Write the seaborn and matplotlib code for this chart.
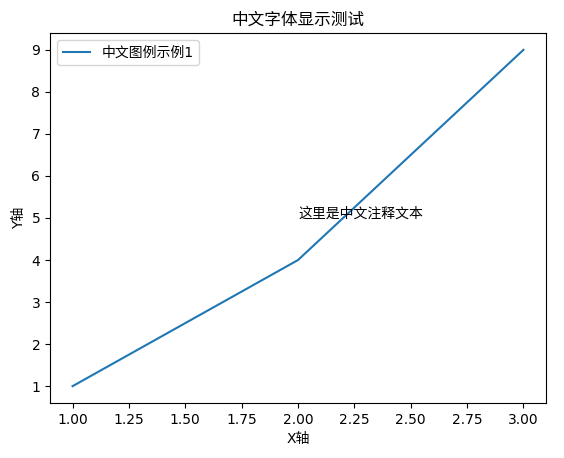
import matplotlib
matplotlib.use("Agg")
import matplotlib.pyplot as plt
import seaborn as sns
import pandas as pd

# data
x_vals = [1, 2, 3]
y_vals = [1, 4, 9]
series_name = "中文图例示例1"
title_text = "中文字体显示测试"
note_text = "这里是中文注释文本"
note_xy = (2, 5)
x_label = "X轴"
y_label = "Y轴"

# DejaVu for latin/digits, CJK family picks up the Chinese glyphs
plt.rcParams['font.family'] = ['DejaVu Sans', 'Noto Sans CJK SC']
plt.rcParams['axes.unicode_minus'] = False

df = pd.DataFrame({'x': x_vals, 'y': y_vals})

fig = plt.figure(figsize=(5.64, 4.58), dpi=100)
fig.patch.set_facecolor('white')
ax = fig.add_axes([50 / 564, 1 - 403 / 458, 496 / 564, 370 / 458])

sns.lineplot(data=df, x='x', y='y', ax=ax, color='#1f77b4', label=series_name)
ax.text(note_xy[0], note_xy[1], note_text, fontsize=10)

ax.set_title(title_text, fontsize=12)
ax.set_xlabel(x_label)
ax.set_ylabel(y_label)
ax.legend(loc='upper left')

fig.savefig('out.png', dpi=100)
plt.close(fig)
